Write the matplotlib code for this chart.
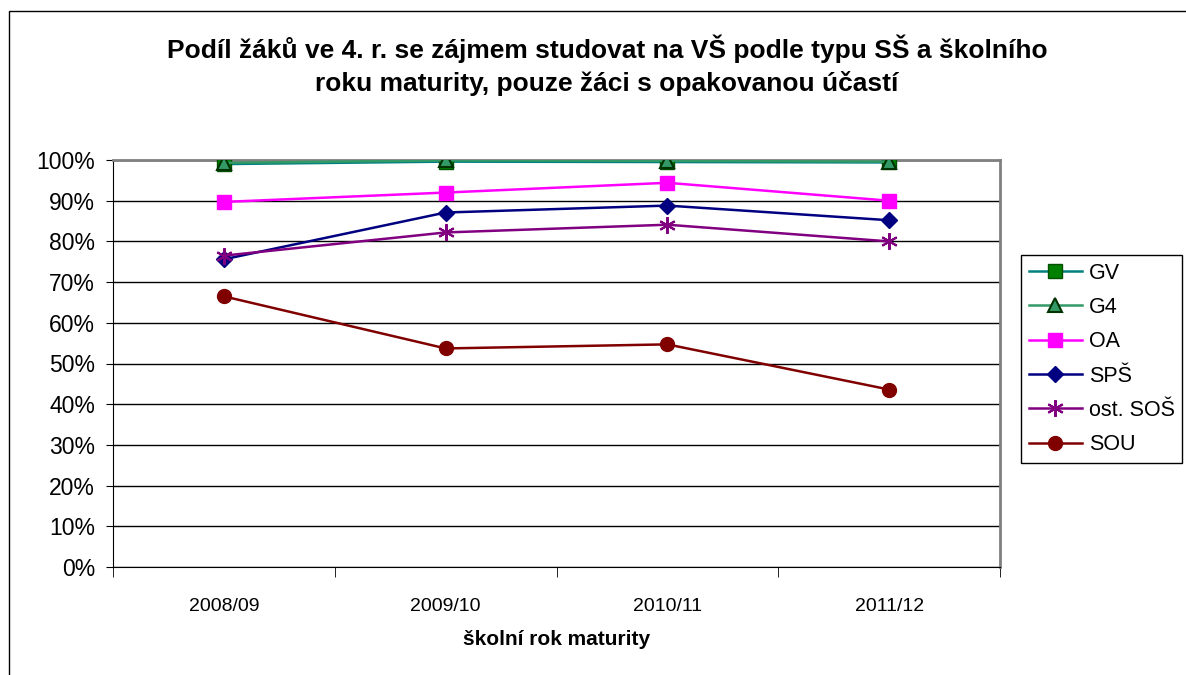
import matplotlib.pyplot as plt
from matplotlib.patches import Rectangle
from matplotlib.ticker import FixedLocator, PercentFormatter

years = ["2008/09", "2009/10", "2010/11", "2011/12"]

gv = [99.0, 99.6, 99.5, 99.4]
g4 = [99.3, 99.9, 99.8, 99.6]
oa = [89.7, 92.0, 94.4, 90.0]
sps = [75.6, 87.1, 88.8, 85.2]
ost_sos = [76.5, 82.2, 84.1, 80.0]
sou = [66.5, 53.7, 54.7, 43.6]

plt.rcParams['font.family'] = ['Liberation Sans', 'DejaVu Sans']

fig = plt.figure(figsize=(11.86, 6.75), dpi=100)
fig.patches.append(Rectangle((9 / 1186, -0.1), 1.2, 1 - 11 / 675 + 0.1,
                             transform=fig.transFigure, fill=False,
                             edgecolor='black', linewidth=1))

ax = fig.add_axes([113 / 1186, 1 - 567 / 675, 887 / 1186, 407 / 675])
x = range(len(years))

ax.plot(x, gv, color='#008080', lw=1.8, marker='s', ms=10,
        mfc='#008000', mec='#005000', label='GV', zorder=5)
ax.plot(x, g4, color='#339966', lw=1.8, marker='^', ms=10,
        mfc='#339966', mec='#003300', mew=1.5, label='G4', zorder=6)
ax.plot(x, oa, color='#FF00FF', lw=1.8, marker='s', ms=10,
        mfc='#FF00FF', mec='#FF00FF', label='OA', zorder=4)
ax.plot(x, sps, color='#000080', lw=1.8, marker='D', ms=8,
        mfc='#000080', mec='#000080', label='SPŠ', zorder=4)
ax.plot(x, ost_sos, color='#800080', lw=1.8, marker=(6, 2, 0), ms=12,
        mfc='#800080', mec='#800080', mew=1.5, label='ost. SOŠ', zorder=4)
ax.plot(x, sou, color='#800000', lw=1.8, marker='o', ms=10,
        mfc='#800000', mec='#800000', label='SOU', zorder=4)

ax.set_xlim(-0.5, 3.5)
ax.set_ylim(0, 100)
ax.set_yticks(range(0, 101, 10))
ax.yaxis.set_major_formatter(PercentFormatter(decimals=0))
ax.grid(axis='y', color='black', lw=1)
ax.set_axisbelow(True)

ax.set_xticks(list(x))
ax.set_xticklabels(years, fontsize=14)
ax.xaxis.set_minor_locator(FixedLocator([-0.5, 0.5, 1.5, 2.5, 3.5]))
ax.tick_params(axis='x', which='major', length=0, pad=22)
ax.tick_params(axis='x', which='minor', length=7, direction='out', color='black')
ax.tick_params(axis='y', length=5, direction='out', labelsize=16.5, pad=8)

for s in ['top', 'right']:
    ax.spines[s].set_color('#808080')
    ax.spines[s].set_linewidth(2)
ax.spines['left'].set_color('black')
ax.spines['bottom'].set_color('black')

ax.set_xlabel('školní rok maturity', fontsize=15, fontweight='bold', labelpad=11)

fig.text(607 / 1186, 1 - 65 / 675,
         'Podíl žáků ve 4. r. se zájmem studovat na VŠ podle typu SŠ a školního\n'
         'roku maturity, pouze žáci s opakovanou účastí',
         ha='center', va='center', fontsize=19, fontweight='bold', linespacing=1.42)

leg = ax.legend(loc='upper left', bbox_to_anchor=(1021 / 1186, 1 - 255 / 675),
                bbox_transform=fig.transFigure, fontsize=15.5, frameon=True,
                fancybox=False, edgecolor='black', framealpha=1,
                handlelength=2.5, handletextpad=0.3, labelspacing=0.62,
                borderpad=0.35, borderaxespad=0)
leg.get_frame().set_linewidth(1)

fig.savefig('out.png', dpi=100)
